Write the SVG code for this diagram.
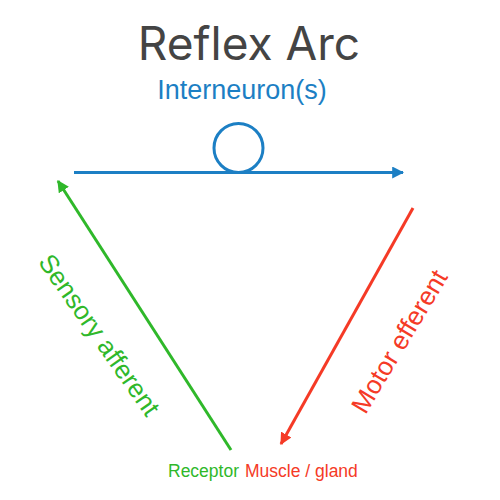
<svg xmlns="http://www.w3.org/2000/svg" width="500" height="500" viewBox="0 0 500 500">
<style>
.lbl{font-family:"Liberation Sans",Arial,sans-serif}
.blue{fill:#1c7fc4}.green{fill:#2fb82a}.red{fill:#f53a26}
</style>
<defs>
<marker id="ab" viewBox="0 0 10 10" refX="9" refY="5" markerWidth="4" markerHeight="4" markerUnits="strokeWidth" orient="auto"><path d="M0,0 L10,5 L0,10 z" fill="#1c7fc4"/></marker>
<marker id="ag" viewBox="0 0 10 10" refX="9" refY="5" markerWidth="4" markerHeight="4" markerUnits="strokeWidth" orient="auto"><path d="M0,0 L10,5 L0,10 z" fill="#2fb82a"/></marker>
<marker id="ar" viewBox="0 0 10 10" refX="9" refY="5" markerWidth="4" markerHeight="4" markerUnits="strokeWidth" orient="auto"><path d="M0,0 L10,5 L0,10 z" fill="#f53a26"/></marker>
</defs>
<text x="249" y="60" text-anchor="middle" font-family="Inter,'Open Sans',sans-serif" font-size="46" fill="#444">Reflex Arc</text>
<g id="interneuron">
<text class="lbl blue" x="242" y="99" text-anchor="middle" font-size="27">Interneuron(s)</text>
<circle cx="238.5" cy="148" r="24.5" fill="none" stroke="#1c7fc4" stroke-width="3"/>
</g>
<g id="receptor"><text class="lbl green" x="168" y="477" font-size="17.5">Receptor</text></g>
<g id="muscle"><text class="lbl red" x="245" y="477" font-size="17.5">Muscle / gland</text></g>
<g id="connectors" fill="none" stroke-width="3">
<line x1="74" y1="172.5" x2="403" y2="172.5" stroke="#1c7fc4" marker-end="url(#ab)"/>
<line x1="231" y1="450" x2="58" y2="181" stroke="#2fb82a" marker-end="url(#ag)"/>
<line x1="413" y1="208" x2="281" y2="444" stroke="#f53a26" marker-end="url(#ar)"/>
</g>
<text class="lbl green" font-size="26" text-anchor="middle" transform="translate(92,340) rotate(55)">Sensory afferent</text>
<text class="lbl red" font-size="26" text-anchor="middle" transform="translate(407,346) rotate(-59)">Motor efferent</text>
</svg>
